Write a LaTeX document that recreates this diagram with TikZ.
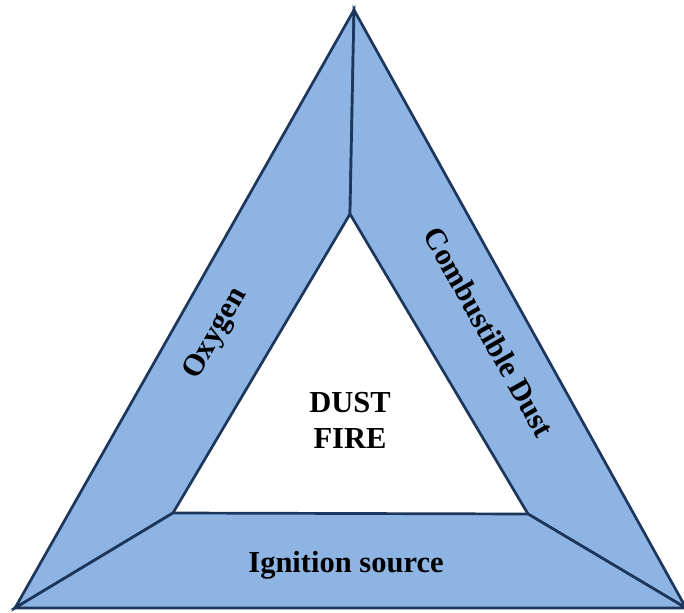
\documentclass[tikz,border=0pt]{standalone}
\usepackage{fontspec}
\setmainfont{Liberation Serif}
\definecolor{bandfill}{HTML}{8EB4E3}
\definecolor{bandline}{HTML}{1C365C}
\begin{document}
\begin{tikzpicture}[x=1pt,y=1pt,
  band/.style={fill=bandfill,draw=bandline,line width=2.7pt,line join=miter},
  label/.style={font=\bfseries\fontsize{30.5}{36}\selectfont,text=black,inner sep=0pt,align=center}]
\useasboundingbox (0,0) rectangle (684,612);
% outer corners
\coordinate (A) at (354,602);
\coordinate (B) at (15,4);
\coordinate (C) at (686,4);
% inner corners
\coordinate (a) at (350,398);
\coordinate (b) at (173,99);
\coordinate (c) at (528,98);
% the three sides of the triangle
\draw[band] (A) -- (B) -- (b) -- (a) -- cycle;
\draw[band] (A) -- (a) -- (c) -- (C) -- cycle;
\draw[band] (B) -- (C) -- (c) -- (b) -- cycle;
% labels
\node[label] (oxy) at (216,278) [rotate=60.5] {Oxygen};
\node[label] (dust) at (489,280) [rotate=-60.5] {Combustible Dust};
\node[label,anchor=base] (ign) at (346,39) {Ignition source};
\node[label] (fire) at (350,192) {DUST\\FIRE};
\end{tikzpicture}
\end{document}
